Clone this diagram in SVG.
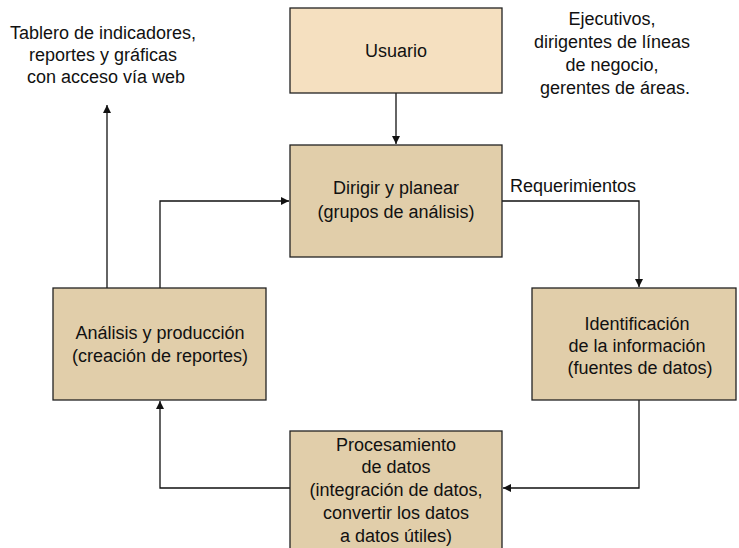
<svg xmlns="http://www.w3.org/2000/svg" width="739" height="548" viewBox="0 0 739 548">
<style>
.box{stroke:#222;stroke-width:1.3}
.u{fill:#F5E0C0}
.n{fill:#E1CEAA}
text{font-family:"Liberation Sans",Arial,sans-serif;font-size:18px;fill:#111;text-anchor:middle}
.c{fill:none;stroke:#111;stroke-width:1.3}
</style>
<defs>
<marker id="a" viewBox="0 0 10 10" refX="10" refY="5" markerWidth="8" markerHeight="8" markerUnits="userSpaceOnUse" orient="auto"><path d="M0,0L10,5L0,10z" fill="#111"/></marker>
</defs>
<rect width="739" height="548" fill="#fff"/>
<g id="connectors">
<path class="c" d="M396,93V144" marker-end="url(#a)"/>
<path class="c" d="M502,201H639V287" marker-end="url(#a)"/>
<path class="c" d="M639,400V488H503" marker-end="url(#a)"/>
<path class="c" d="M290,488H160V401" marker-end="url(#a)"/>
<path class="c" d="M160,288V201H289" marker-end="url(#a)"/>
<path class="c" d="M107,288V105" marker-end="url(#a)"/>
<text x="573" y="192">Requerimientos</text>
</g>
<g id="usuario">
<rect class="box u" x="290" y="8" width="212" height="85"/>
<text x="396" y="57">Usuario</text>
</g>
<g id="dirigir">
<rect class="box n" x="290" y="145" width="212" height="112"/>
<text x="396" y="194">Dirigir y planear</text>
<text x="396" y="218">(grupos de análisis)</text>
</g>
<g id="analisis">
<rect class="box n" x="53" y="288" width="213" height="112"/>
<text x="160" y="339">Análisis y producción</text>
<text x="160" y="362">(creación de reportes)</text>
</g>
<g id="identificacion">
<rect class="box n" x="532" y="288" width="204" height="112"/>
<text x="637" y="330">Identificación</text>
<text x="637" y="352">de la información</text>
<text x="640" y="374">(fuentes de datos)</text>
</g>
<g id="procesamiento">
<rect class="box n" x="290" y="431" width="212" height="125"/>
<text x="396" y="451">Procesamiento</text>
<text x="396" y="473">de datos</text>
<text x="396" y="496">(integración de datos,</text>
<text x="396" y="519">convertir los datos</text>
<text x="396" y="542">a datos útiles)</text>
</g>
<g id="nota-tablero">
<text x="103" y="39">Tablero de indicadores,</text>
<text x="103" y="61">reportes y gráficas</text>
<text x="106" y="83">con acceso vía web</text>
</g>
<g id="nota-usuarios">
<text x="612" y="25">Ejecutivos,</text>
<text x="612" y="48">dirigentes de líneas</text>
<text x="612" y="71">de negocio,</text>
<text x="615" y="94">gerentes de áreas.</text>
</g>
</svg>
